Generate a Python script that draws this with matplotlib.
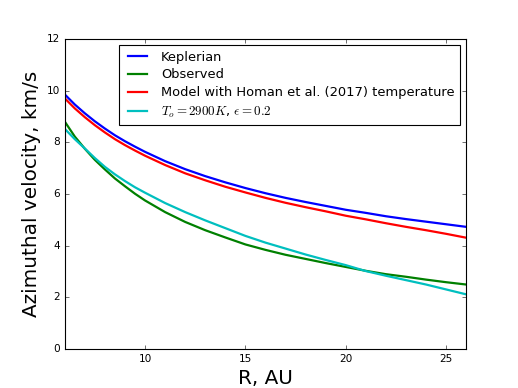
import matplotlib
matplotlib.use('Agg')
import matplotlib.pyplot as plt

plt.style.use('classic')

# values (R in AU, velocity in km/s)
r_au = [6, 6.5, 7, 7.5, 8, 8.5, 9, 9.5, 10, 11, 12, 13, 14, 15, 16, 17, 18, 19, 20,
        21, 22, 23, 24, 25, 26]
v_kepler = [9.85, 9.46, 9.12, 8.81, 8.53, 8.27, 8.04, 7.83, 7.63, 7.27, 6.96, 6.69,
            6.45, 6.23, 6.03, 5.85, 5.69, 5.54, 5.39, 5.27, 5.14, 5.03, 4.93, 4.83, 4.73]
v_observed = [8.8, 8.22, 7.75, 7.32, 6.95, 6.6, 6.3, 6.01, 5.75, 5.3, 4.92, 4.6,
              4.32, 4.05, 3.84, 3.65, 3.49, 3.33, 3.18, 3.03, 2.9, 2.8, 2.69, 2.59, 2.5]
v_homan = [9.70, 9.31, 8.97, 8.66, 8.38, 8.12, 7.89, 7.68, 7.48, 7.12, 6.80, 6.53,
           6.28, 6.06, 5.85, 5.66, 5.49, 5.33, 5.16, 5.02, 4.87, 4.73, 4.60, 4.46, 4.31]
v_model = [8.52, 8.12, 7.76, 7.39, 7.05, 6.76, 6.5, 6.26, 6.05, 5.65, 5.3, 4.98,
           4.68, 4.38, 4.12, 3.89, 3.66, 3.45, 3.25, 3.02, 2.84, 2.67, 2.5, 2.31, 2.12]

fig = plt.figure(figsize=(518 / 80, 388 / 80), dpi=80)
ax = fig.add_subplot(111)

ax.plot(r_au, v_kepler, color='b', lw=2, label='Keplerian')
ax.plot(r_au, v_observed, color='g', lw=2, label='Observed')
ax.plot(r_au, v_homan, color='r', lw=2, label='Model with Homan et al. (2017) temperature')
ax.plot(r_au, v_model, color='c', lw=2, label=r'$T_o=2900K$, $\epsilon=0.2$')

ax.set_xlim(6, 26)
ax.set_ylim(0, 12)
ax.set_xticks([10, 15, 20, 25])
ax.set_yticks(range(0, 13, 2))
ax.tick_params(labelsize=9.5)
ax.set_xlabel('R, AU', fontsize=18)
ax.set_ylabel('Azimuthal velocity, km/s', fontsize=18)
ax.legend(loc='upper right', fontsize=11.7, labelspacing=0.38)

fig.savefig('out.png', dpi=80)
